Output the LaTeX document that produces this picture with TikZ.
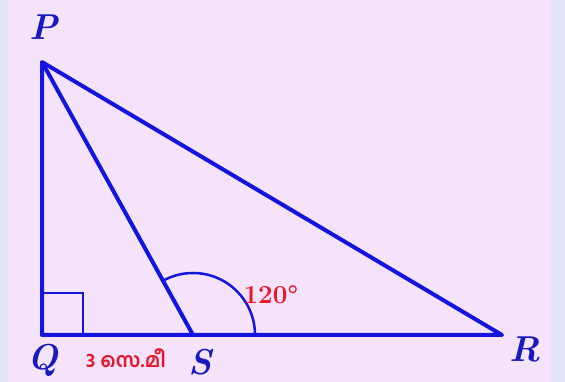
\documentclass[tikz,border=0pt]{standalone}
\usepackage{fontspec}
\newfontfamily\malfont[Script=Malayalam]{Hind Kochi}
\definecolor{sidebg}{RGB}{228,228,250}
\definecolor{pagebg}{RGB}{245,227,252}
\definecolor{edgeblue}{RGB}{20,20,225}
\definecolor{vertexblue}{RGB}{25,25,190}
\definecolor{markred}{RGB}{235,20,40}
\tikzset{
  edge/.style={edgeblue, line width=4pt, line join=round},
  anglemark/.style={edgeblue, line width=2.5pt},
  vertex/.style={inner sep=0pt, text=vertexblue, font=\fontsize{36}{38}\selectfont\bfseries\itshape},
  measure/.style={inner sep=0pt, text=markred, font=\fontsize{21}{23}\selectfont\bfseries}
}
\begin{document}
\begin{tikzpicture}[x=1pt, y=1pt]

% page background, with the lighter strips at both sides
\fill[sidebg] (0,0) rectangle (565,382);
\fill[pagebg] (8,0) rectangle (550,382);
\useasboundingbox (0,0) rectangle (565,382);

% corners of the triangle
\coordinate (P) at (42,320);
\coordinate (Q) at (42,47);
\coordinate (S) at (193,47);
\coordinate (R) at (502,47);

% right angle at Q and the 120 degree arc at S
\draw[anglemark] (Q) ++(0,42) -| ++(41,-42);
\draw[anglemark] (S) ++(62,0) arc[start angle=0, end angle=120, radius=62];

% sides
\draw[edge] (P) -- (Q) -- (R) -- cycle;
\draw[edge] (P) -- (S);

% labels
\node[vertex] (lblP) at (44,355) {P};
\node[vertex] (lblQ) at (43,22) {Q};
\node[vertex] (lblS) at (200,20) {S};
\node[vertex] (lblR) at (525,33) {R};
\node[measure, font=\fontsize{20}{22}\selectfont\malfont\bfseries] (lblQS) at (126,24) {3 സെ.മീ};
\node[measure, font=\fontsize{26}{28}\selectfont\bfseries] (lblang) at (271,87) {120\textdegree};

\end{tikzpicture}
\end{document}
